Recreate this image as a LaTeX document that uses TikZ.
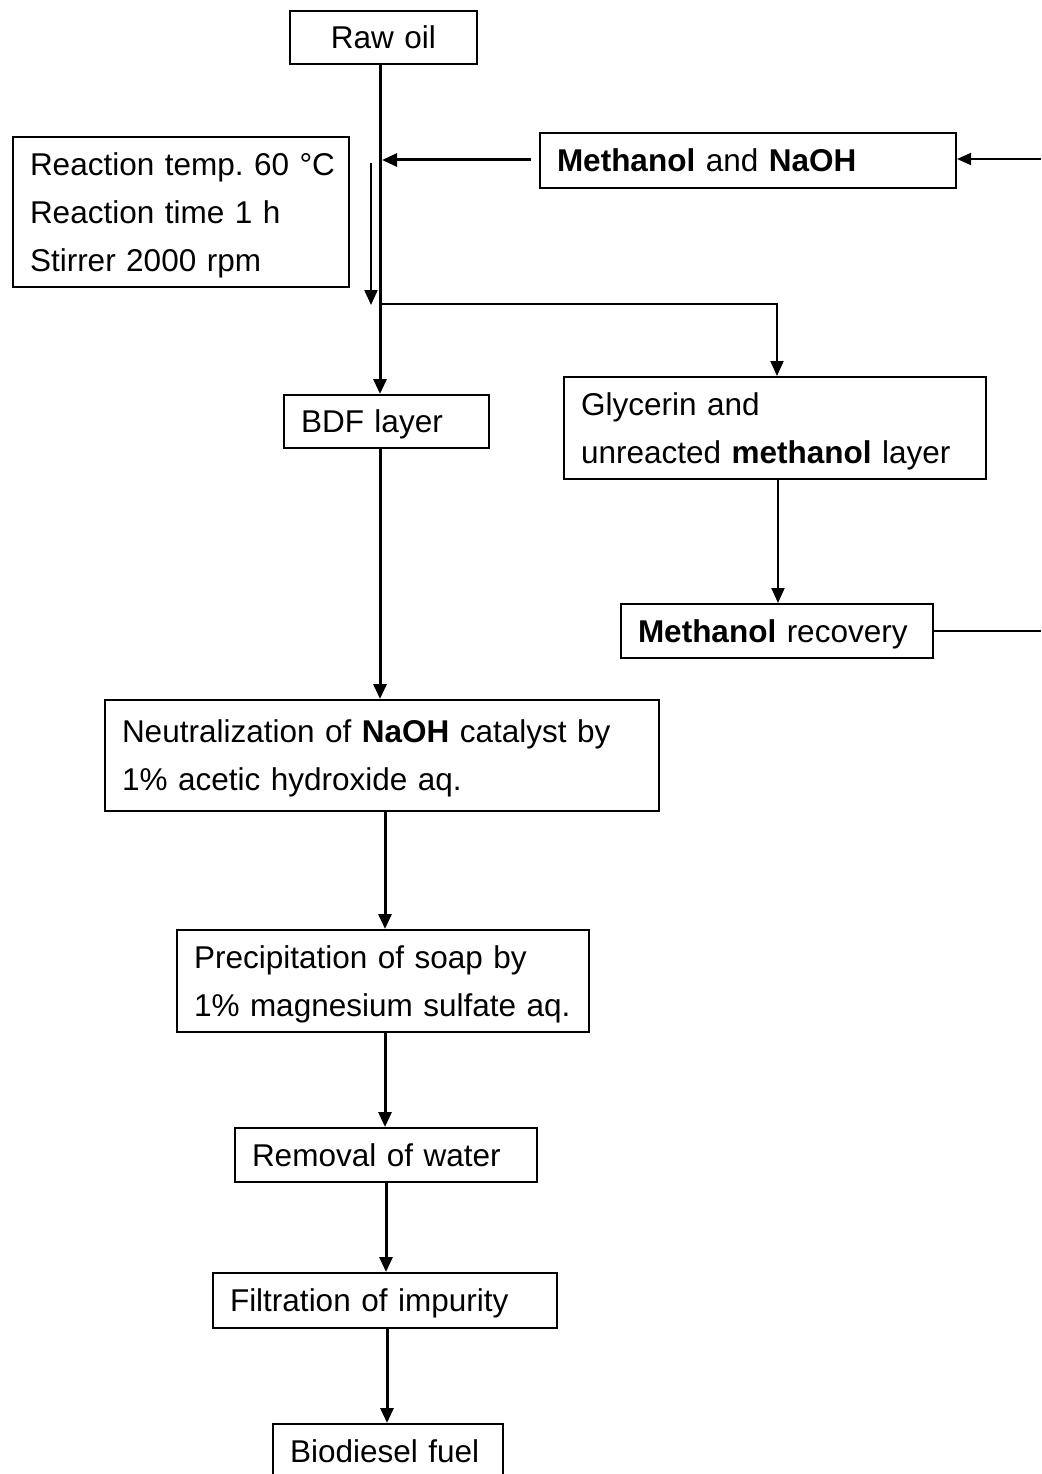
\documentclass[tikz,border=0pt]{standalone}
\usepackage{fontspec}
\setmainfont{Liberation Sans}
\usetikzlibrary{arrows.meta}
\begin{document}
\frenchspacing
\begin{tikzpicture}[x=1pt,y=-1pt,
  box/.style={draw, line width=2pt, anchor=north west, inner xsep=17pt, inner ysep=0pt,
    align=left, font=\fontsize{31.5pt}{48pt}\selectfont\frenchspacing, text height=22.5pt, text depth=0pt},
  thickarr/.style={line width=3pt, -{Triangle[width=13pt,length=15pt]}},
  thinarr/.style={line width=2pt, -{Triangle[width=13pt,length=15pt]}},
  hairarr/.style={line width=1.5pt, -{Triangle[width=12pt,length=14pt]}},
  plainline/.style={line width=1.8pt}]
\useasboundingbox (0,0) rectangle (1041,1474);
\fill[white] (0,0) rectangle (1041,1474);
\clip (0,0) rectangle (1041,1474);

% boxes
\node[box, align=center, minimum width=187pt, minimum height=53pt, text width=153pt] (raw) at (289,10) {Raw oil};
\node[box, minimum width=336pt, minimum height=150pt, text width=302pt, text depth=96pt] (cond) at (12,136)
  {Reaction~temp.~60~°C\\Reaction time 1 h\\Stirrer 2000 rpm};
\node[box, minimum width=416pt, minimum height=55pt, text width=382pt] (meth) at (539,132)
  {\textbf{Methanol} and \textbf{NaOH}};
\node[box, minimum width=205pt, minimum height=53pt, text width=171pt] (bdf) at (283,394) {BDF layer};
\node[box, minimum width=422pt, minimum height=102pt, text width=388pt, text depth=48pt] (glyc) at (563,376)
  {Glycerin and\\unreacted \textbf{methanol} layer};
\node[box, minimum width=312pt, minimum height=54pt, text width=278pt] (rec) at (620,603)
  {\textbf{Methanol} recovery};
\node[box, minimum width=554pt, minimum height=111pt, text width=520pt, text depth=48pt] (neut) at (104,699)
  {Neutralization of \textbf{NaOH} catalyst by\\1\% acetic hydroxide aq.};
\node[box, minimum width=412pt, minimum height=102pt, text width=378pt, text depth=48pt] (prec) at (176,929)
  {Precipitation of soap by\\1\% magnesium sulfate aq.};
\node[box, minimum width=302pt, minimum height=54pt, text width=268pt] (remw) at (234,1127) {Removal of water};
\node[box, minimum width=344pt, minimum height=55pt, text width=310pt] (filt) at (212,1272) {Filtration of impurity};
\node[box, minimum width=230pt, minimum height=55pt, text width=196pt] (bio) at (272,1423) {Biodiesel fuel};

% helper coordinates
\coordinate (m1) at (380,0);
\coordinate (mj) at (382,160);
\coordinate (rin) at (1041,159);
\coordinate (s1) at (371,163);
\coordinate (s2) at (371,305);
\coordinate (br) at (380,304);
\coordinate (bc) at (777,304);
\coordinate (gx) at (778,0);
\coordinate (rout) at (1041,631);
\coordinate (c2) at (385,0);
\coordinate (c3) at (385,0);
\coordinate (c4) at (386,0);
\coordinate (c5) at (387,0);

% connectors
\draw[thickarr] (raw.south -| m1) -- (bdf.north -| m1);
\draw[thickarr, shorten <=8pt] (meth.west |- mj) -- (mj);
\draw[hairarr] (rin) -- (rin -| meth.east);
\draw[thinarr] (s1) -- (s2);
\draw[thinarr] (br) -- (bc) -- (bc |- glyc.north);
\draw[thinarr] (gx |- glyc.south) -- (gx |- rec.north);
\draw[plainline] (rec.east |- rout) -- (rout);
\draw[thickarr] (bdf.south -| m1) -- (neut.north -| m1);
\draw[thickarr] (neut.south -| c2) -- (prec.north -| c2);
\draw[thickarr] (prec.south -| c3) -- (remw.north -| c3);
\draw[thickarr] (remw.south -| c4) -- (filt.north -| c4);
\draw[thickarr] (filt.south -| c5) -- (bio.north -| c5);
\end{tikzpicture}
\end{document}
